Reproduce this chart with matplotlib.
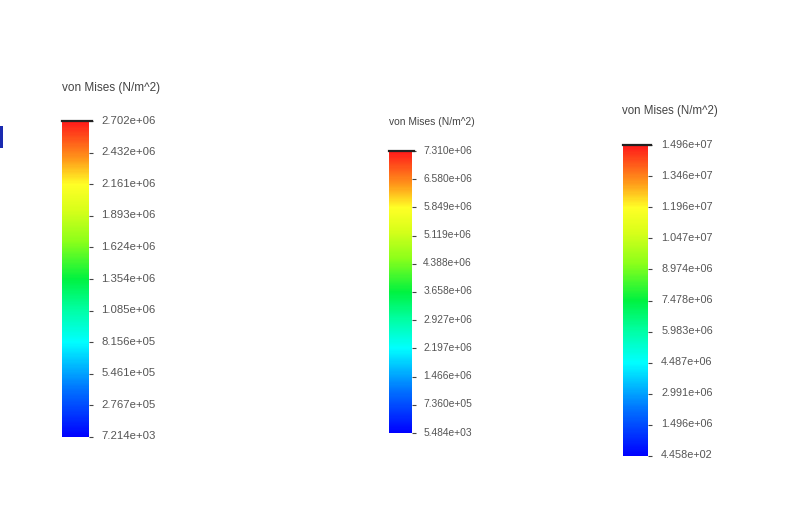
import matplotlib
matplotlib.use("Agg")
import matplotlib.pyplot as plt
import matplotlib as mpl
import numpy as np
from matplotlib.colors import LinearSegmentedColormap, Normalize
from matplotlib.patches import Rectangle

title = "von Mises (N/m^2)"

labels_1 = ["7.214e+03", "2.767e+05", "5.461e+05", "8.156e+05", "1.085e+06", "1.354e+06",
            "1.624e+06", "1.893e+06", "2.161e+06", "2.432e+06", "2.702e+06"]
labels_2 = ["5.484e+03", "7.360e+05", "1.466e+06", "2.197e+06", "2.927e+06", "3.658e+06",
            "4.388e+06", "5.119e+06", "5.849e+06", "6.580e+06", "7.310e+06"]
labels_3 = ["4.458e+02", "1.496e+06", "2.991e+06", "4.487e+06", "5.983e+06", "7.478e+06",
            "8.974e+06", "1.047e+07", "1.196e+07", "1.346e+07", "1.496e+07"]

W, H = 802, 506
fig = plt.figure(figsize=(W / 100, H / 100), dpi=100)
fig.patch.set_facecolor("white")

cmap = LinearSegmentedColormap.from_list("sw", [
    (0.00, (0.0, 0.0, 1.0)),
    (0.15, (0.0, 0.45, 1.0)),
    (0.30, (0.0, 1.0, 1.0)),
    (0.40, (0.0, 1.0, 0.65)),
    (0.50, (0.0, 0.95, 0.25)),
    (0.62, (0.55, 1.0, 0.1)),
    (0.72, (0.85, 1.0, 0.1)),
    (0.80, (1.0, 1.0, 0.15)),
    (0.88, (1.0, 0.6, 0.1)),
    (1.00, (1.0, 0.1, 0.1)),
])

def px_axes(left, top, right, bottom):
    return fig.add_axes([left / W, 1 - bottom / H, (right - left) / W, (bottom - top) / H])

def make_bar(labels, box, fs, pad, title_xy, title_fs):
    vals = [float(s) for s in labels]
    ax = px_axes(*box)
    sm = mpl.cm.ScalarMappable(norm=Normalize(vals[0], vals[-1]), cmap=cmap)
    cb = fig.colorbar(sm, cax=ax, ticks=vals)
    cb.outline.set_visible(False)
    cb.ax.set_yticklabels(labels)
    cb.ax.tick_params(axis="y", direction="out", length=3, width=0.8, color="#444444",
                      pad=pad, labelsize=fs, labelcolor="#555555")
    shift = mpl.transforms.ScaledTranslation(0, 2.5 / 100, fig.dpi_scale_trans)
    for t in cb.ax.get_yticklabels():
        t.set_fontfamily("Liberation Sans")
        t.set_transform(t.get_transform() + shift)
    trans = mpl.transforms.blended_transform_factory(ax.transAxes, ax.transData)
    ax.plot([0, 1.1], [vals[-1], vals[-1]], color="#222222", lw=1.6, transform=trans, clip_on=False)
    fig.text(title_xy[0] / W, 1 - title_xy[1] / H, title, fontsize=title_fs,
             family="Liberation Sans", color="#444444", va="center", ha="left")

make_bar(labels_1, (62, 122, 89, 438), 8.2, 5.8, (62, 88), 8.5)
make_bar(labels_2, (389, 152, 412, 434), 7.4, 5.0, (389, 122), 7.4)
make_bar(labels_3, (623, 146, 648, 457), 7.8, 6.5, (622, 111), 8.3)

# small blue fragment at left edge
fig.patches.append(Rectangle((0, 1 - 149 / H), 3 / W, 22 / H, transform=fig.transFigure,
                             facecolor="#1a2ab0", edgecolor="none"))

fig.savefig("out.png", dpi=100, facecolor="white")
